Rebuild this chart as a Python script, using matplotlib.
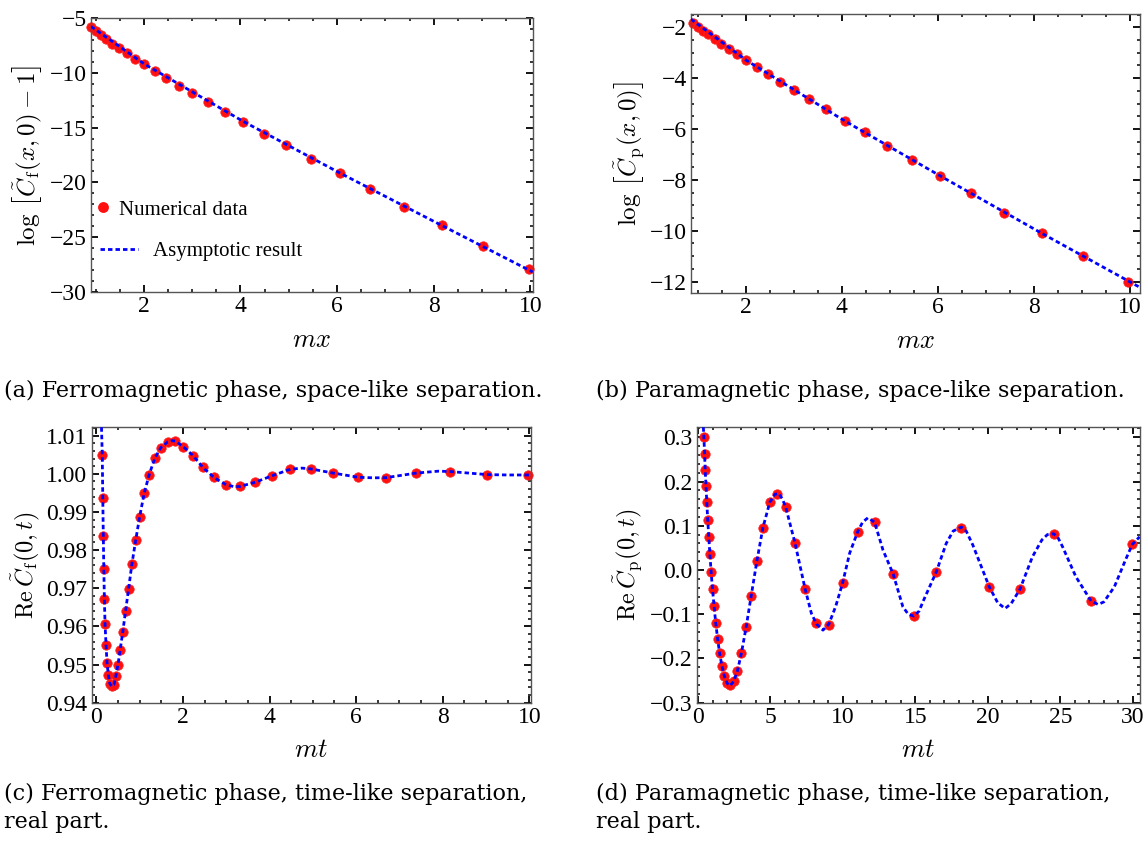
import matplotlib
matplotlib.use('Agg')
import matplotlib.pyplot as plt
from matplotlib.ticker import MultipleLocator, FuncFormatter
from matplotlib.lines import Line2D

plt.rcParams['font.family'] = ['Liberation Serif', 'DejaVu Serif']
plt.rcParams['mathtext.fontset'] = 'cm'

# (a) ferromagnetic, space-like
xa = [0.905, 1.0, 1.105, 1.22, 1.35, 1.49, 1.65, 1.82, 2.01, 2.23, 2.46, 2.72, 3.0,
      3.32, 3.67, 4.06, 4.48, 4.95, 5.47, 6.05, 6.69, 7.39, 8.17, 9.03, 9.97]
ya = [-5.88, -6.25, -6.6, -6.98, -7.37, -7.74, -8.19, -8.72, -9.25, -9.81, -10.46, -11.19,
      -11.89, -12.68, -13.56, -14.47, -15.55, -16.6, -17.85, -19.1, -20.6, -22.2, -23.9,
      -25.8, -27.9]
xa_line = [0.905, 2.01, 4.06, 6.05, 8.17, 10.05]
ya_line = [-5.80, -9.22, -14.45, -19.12, -23.92, -28.15]

# (b) paramagnetic, space-like
xb = xa
yb = [-1.84, -1.97, -2.13, -2.28, -2.46, -2.64, -2.85, -3.06, -3.30, -3.57, -3.85, -4.15,
      -4.48, -4.83, -5.22, -5.67, -6.13, -6.65, -7.23, -7.83, -8.53, -9.29, -10.09, -11.0,
      -12.03]
xb_line = [0.855, 2.01, 4.06, 6.05, 8.17, 10.21]
yb_line = [-1.68, -3.30, -5.68, -7.84, -10.10, -12.22]

# (c) ferromagnetic, time-like
tc = [0.136, 0.148, 0.160, 0.172, 0.185, 0.20, 0.223, 0.246, 0.277, 0.31, 0.355, 0.405,
      0.45, 0.50, 0.55, 0.61, 0.675, 0.745, 0.82, 0.91, 1.0, 1.105, 1.22, 1.35, 1.49, 1.65,
      1.82, 2.01, 2.23, 2.46, 2.72, 3.0, 3.32, 3.67, 4.06, 4.48, 4.95, 5.47, 6.05, 6.69,
      7.39, 8.17, 9.03, 9.97]
yc = [1.0049, 0.9937, 0.9838, 0.9750, 0.9671, 0.9607, 0.9551, 0.9505, 0.9472, 0.9450,
      0.9444, 0.9446, 0.9470, 0.9500, 0.9539, 0.9586, 0.9641, 0.9699, 0.9763, 0.9827,
      0.9888, 0.9949, 0.9998, 1.0041, 1.0069, 1.0084, 1.0085, 1.0071, 1.0048, 1.0017,
      0.9991, 0.9972, 0.9967, 0.9978, 0.9995, 1.0012, 1.0013, 1.0002, 0.9991, 0.9990,
      1.0002, 1.0006, 0.9998, 0.9997]
tc_line = [0.118, 0.136, 0.148, 0.160, 0.172, 0.185, 0.20, 0.223, 0.246, 0.277, 0.31,
           0.355, 0.405, 0.45, 0.50, 0.55, 0.61, 0.675, 0.745, 0.82, 0.91, 1.0, 1.105, 1.22,
           1.35, 1.49, 1.65, 1.75, 1.82, 2.01, 2.23, 2.46, 2.72, 3.0, 3.2, 3.32, 3.67, 4.06,
           4.48, 4.75, 4.95, 5.47, 6.05, 6.4, 6.69, 7.39, 7.9, 8.17, 9.03, 9.5, 9.97, 10.04]
yc_line = [1.0122, 1.0049, 0.9937, 0.9838, 0.9750, 0.9671, 0.9607, 0.9551, 0.9505, 0.9472,
           0.9450, 0.9443, 0.9447, 0.9470, 0.9500, 0.9539, 0.9586, 0.9641, 0.9699, 0.9763,
           0.9827, 0.9888, 0.9949, 0.9998, 1.0041, 1.0069, 1.0084, 1.0087, 1.0086, 1.0071,
           1.0048, 1.0017, 0.9990, 0.9971, 0.9966, 0.9967, 0.9978, 0.9995, 1.0012, 1.0015,
           1.0013, 1.0002, 0.9991, 0.99895, 0.9990, 1.0002, 1.0007, 1.0006, 0.9998, 0.9997,
           0.9997, 0.9997]

# (d) paramagnetic, time-like
td = [0.407, 0.449, 0.497, 0.549, 0.607, 0.670, 0.741, 0.819, 0.905, 1.0, 1.105, 1.22,
      1.35, 1.49, 1.65, 1.82, 2.01, 2.23, 2.46, 2.72, 3.0, 3.32, 3.67, 4.06, 4.48, 4.95,
      5.47, 6.05, 6.69, 7.39, 8.17, 9.03, 9.97, 11.02, 12.18, 13.46, 14.88, 16.44, 18.17,
      20.09, 22.2, 24.53, 27.11, 29.96]
yd = [0.300, 0.262, 0.226, 0.190, 0.153, 0.113, 0.0754, 0.0362, -0.0045, -0.0436, -0.0806,
      -0.119, -0.155, -0.188, -0.217, -0.240, -0.256, -0.261, -0.251, -0.2275, -0.187,
      -0.1295, -0.058, 0.0204, 0.0958, 0.153, 0.172, 0.142, 0.061, -0.043, -0.1205, -0.1235,
      -0.030, 0.0867, 0.108, -0.009, -0.103, -0.0037, 0.0958, -0.0376, -0.0436, 0.0815,
      -0.070, 0.058]
td_line = [0.37, 0.407, 0.497, 0.549, 0.607, 0.670, 0.741, 0.819, 0.905, 1.0, 1.105, 1.22,
           1.35, 1.49, 1.65, 1.82, 2.01, 2.2, 2.46, 2.72, 3.0, 3.32, 3.67, 4.06, 4.48, 4.95,
           5.3, 5.55, 5.8, 6.05, 6.69, 7.39, 7.82, 8.17, 8.62, 9.03, 9.5, 9.97, 10.46, 11.02,
           11.35, 11.72, 12.18, 12.76, 13.46, 14.13, 14.5, 14.88, 15.25, 15.51, 16.44, 17.12,
           17.6, 18.17, 18.5, 18.95, 20.09, 20.67, 21.18, 21.6, 22.2, 23.07, 23.72, 24.1,
           24.53, 24.8, 25.14, 26.06, 27.11, 27.6, 28.0, 28.72, 29.49, 29.96, 30.46]
yd_line = [0.3226, 0.300, 0.226, 0.190, 0.153, 0.113, 0.0754, 0.0362, -0.0045, -0.0436,
           -0.0806, -0.119, -0.155, -0.188, -0.217, -0.240, -0.256, -0.262, -0.252, -0.228,
           -0.187, -0.129, -0.058, 0.020, 0.096, 0.153, 0.171, 0.173, 0.162, 0.142, 0.061,
           -0.043, -0.098, -0.122, -0.136, -0.122, -0.082, -0.030, 0.038, 0.087, 0.108,
           0.118, 0.108, 0.045, -0.009, -0.083, -0.100, -0.104, -0.093, -0.072, -0.004,
           0.060, 0.088, 0.097, 0.088, 0.057, -0.038, -0.074, -0.087, -0.076, -0.044, 0.030,
           0.068, 0.080, 0.082, 0.075, 0.053, -0.015, -0.070, -0.078, -0.072, -0.038, 0.023,
           0.058, 0.075]

captions = ['(a) Ferromagnetic phase, space-like separation.',
            '(b) Paramagnetic phase, space-like separation.',
            '(c) Ferromagnetic phase, time-like separation,\nreal part.',
            '(d) Paramagnetic phase, time-like separation,\nreal part.']

W, H = 1146, 843
fig = plt.figure(figsize=(W / 100, H / 100), dpi=100)


def box(l, r, t, b):
    return [l / W, 1 - b / H, (r - l) / W, (b - t) / H]


def style(ax, xmaj, xmin, ymaj, ymin):
    ax.xaxis.set_major_locator(MultipleLocator(xmaj))
    ax.xaxis.set_minor_locator(MultipleLocator(xmin))
    ax.yaxis.set_major_locator(MultipleLocator(ymaj))
    ax.yaxis.set_minor_locator(MultipleLocator(ymin))
    ax.tick_params(which='both', direction='in', top=True, right=True, labelsize=17,
                   color='black')
    ax.tick_params(which='major', length=5, width=1.3, pad=3)
    ax.tick_params(which='minor', length=2.5, width=1.1)
    for s in ax.spines.values():
        s.set_color('#555555')
        s.set_linewidth(1.0)


def minus_fmt(nd):
    def f(v, pos):
        s = '%.*f' % (nd, round(v, nd) + 0.0)
        if s.startswith('-') and float(s) == 0:
            s = s[1:]
        return s.replace('-', '\u2212')
    return FuncFormatter(f)


def draw(ax, x, y, xl, yl):
    ax.plot(x, y, 'o', color='#ff1010', ms=6.8, mec='#ff2020', mew=0.5, zorder=2,
            clip_on=False)
    ax.plot(xl, yl, color='#0000ff', lw=2.0, dashes=(1.6, 1.1), zorder=3)


mark_kw = dict(fontsize=19)

# (a)
ax1 = fig.add_axes(box(91, 532.7, 17.7, 292.3))
draw(ax1, xa, ya, xa_line, ya_line)
ax1.set_xlim(0.905, 10.05)
ax1.set_ylim(-30, -5)
style(ax1, 2, 0.5, 5, 1)
ax1.set_xticks([2, 4, 6, 8, 10])
ax1.set_xlabel(r'$mx$', **mark_kw)
ax1.set_ylabel(r'$\log\,\left[\tilde{C}_{\mathrm{f}}(x,0)-1\right]$', fontsize=18, va='center')
ax1.yaxis.set_label_coords(-(91 - 27) / 441.7, 0.5)
h1 = Line2D([], [], marker='o', ls='none', color='#ff1010', ms=6.8)
h2 = Line2D([], [], color='#0000ff', lw=2.0, dashes=(1.6, 1.1))
leg1 = ax1.legend([h1], ['Numerical data'], loc='center left', bbox_to_anchor=(0.014, 0.30),
                  frameon=False, fontsize=15, handlelength=0.6, handletextpad=0.45,
                  borderaxespad=0, borderpad=0)
ax1.add_artist(leg1)
ax1.legend([h2], ['Asymptotic result'], loc='center left', bbox_to_anchor=(0.020, 0.15),
           frameon=False, fontsize=15, handlelength=1.83, handletextpad=0.72,
           borderaxespad=0, borderpad=0)

# (b)
ax2 = fig.add_axes(box(690.9, 1139.6, 14.3, 293.3))
draw(ax2, xb, yb, xb_line, yb_line)
ax2.set_xlim(0.855, 10.21)
ax2.set_ylim(-12.46, -1.49)
style(ax2, 2, 0.5, 2, 0.5)
ax2.set_xticks([2, 4, 6, 8, 10])
ax2.set_xlabel(r'$mx$', **mark_kw)
ax2.set_ylabel(r'$\log\,\left[\tilde{C}_{\mathrm{p}}(x,0)\right]$', fontsize=18, va='center')
ax2.yaxis.set_label_coords(-(690.9 - 630) / 448.7, 0.5)

# (c)
ax3 = fig.add_axes(box(91.7, 531, 427.3, 702.7))
draw(ax3, tc, yc, tc_line, yc_line)
ax3.set_xlim(-0.108, 10.04)
ax3.set_ylim(0.94, 1.0122)
style(ax3, 2, 0.5, 0.01, 0.002)
ax3.yaxis.set_major_formatter(minus_fmt(2))
ax3.set_xlabel(r'$mt$', **mark_kw)
ax3.set_ylabel(r'$\mathrm{Re}\,\tilde{C}_{\mathrm{f}}(0,t)$', fontsize=17.5, va='center')
ax3.yaxis.set_label_coords(-(91.7 - 26) / 439.3, 0.5)

# (d)
ax4 = fig.add_axes(box(696.7, 1139.6, 427.3, 702.7))
draw(ax4, td, yd, td_line, yd_line)
ax4.set_xlim(-0.09, 30.46)
ax4.set_ylim(-0.3, 0.3226)
style(ax4, 5, 1, 0.1, 0.02)
ax4.yaxis.set_major_formatter(minus_fmt(1))
ax4.set_xlabel(r'$mt$', **mark_kw)
ax4.set_ylabel(r'$\mathrm{Re}\,\tilde{C}_{\mathrm{p}}(0,t)$', fontsize=17.5, va='center')
ax4.yaxis.set_label_coords(-(696.7 - 628) / 442.9, 0.5)

for ax in [ax1, ax2, ax3, ax4]:
    ax.xaxis.labelpad = 9

cap_kw = dict(fontsize=16, family='DejaVu Serif', va='center', ha='left')
fig.text(4 / W, 1 - 391 / H, captions[0], **cap_kw)
fig.text(596 / W, 1 - 391 / H, captions[1], **cap_kw)
fig.text(4 / W, 1 - 808 / H, captions[2], linespacing=1.35, **cap_kw)
fig.text(596 / W, 1 - 808 / H, captions[3], linespacing=1.35, **cap_kw)

fig.savefig('out.png', dpi=100)
